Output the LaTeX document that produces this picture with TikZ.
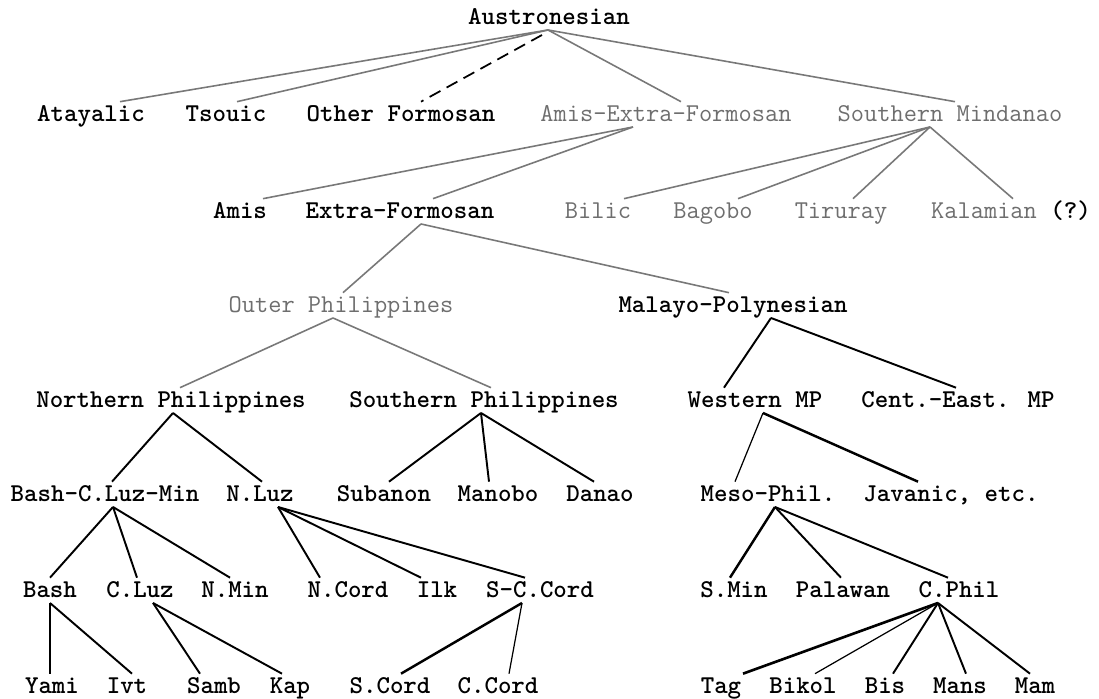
\documentclass[tikz,border=0pt]{standalone}
\usepackage{tikz}
\definecolor{textGray}{RGB}{110,110,110}
\definecolor{lineGray}{RGB}{120,120,120}

\begin{document}
\begin{tikzpicture}[x=0.2mm, y=-0.2mm,
    lang/.style={anchor=base, inner sep=0pt, outer sep=0pt, text height=11pt, text depth=3.4pt,
      font=\fontsize{14.6}{16}\selectfont\ttfamily\bfseries},
    faint/.style={lang, text=textGray, font=\fontsize{14.6}{16}\selectfont\ttfamily},
    upper/.style={lineGray, line width=0.9pt},
    lower/.style={black, line width=1.1pt},
    slim/.style={black, line width=0.7pt}]
  \fill[white] (0,0) rectangle (1099,699);
  \useasboundingbox (0,0) rectangle (1099,699);

  \node[lang] (aus) at (549,24) {Austronesian};

  \node[lang] (ata) at (91,121) {Atayalic};
  \node[lang] (tso) at (226,121) {Tsouic};
  \node[lang] (ofo) at (401,121) {Other Formosan};
  \node[faint] (aef) at (666,121) {Amis-Extra-Formosan};
  \node[faint] (smi) at (950,121) {Southern Mindanao};

  \node[lang] (ami) at (240,218) {Amis};
  \node[lang] (exf) at (400,218) {Extra-Formosan};
  \node[faint] (bil) at (598,218) {Bilic};
  \node[faint] (bag) at (713,218) {Bagobo};
  \node[faint] (tir) at (841,218) {Tiruray};
  \node[lang] (kal) at (1011,218) {\textcolor{textGray}{\mdseries Kalamian} (?)};

  \node[faint] (oph) at (341,312) {Outer Philippines};
  \node[lang] (mpo) at (733,312) {Malayo-Polynesian};

  \node[lang] (nph) at (171,407) {Northern Philippines};
  \node[lang] (sph) at (484,407) {Southern Philippines};
  \node[lang] (wmp) at (755,407) {Western MP};
  \node[lang] (cem) at (958,407) {Cent.-East. MP};

  \node[lang] (bcl) at (105,501) {Bash-C.Luz-Min};
  \node[lang] (nlu) at (260,501) {N.Luz};
  \node[lang] (sub) at (384,501) {Subanon};
  \node[lang] (man) at (498,501) {Manobo};
  \node[lang] (dan) at (600,501) {Danao};
  \node[lang] (mes) at (768,501) {Meso-Phil.};
  \node[lang] (jav) at (951,501) {Javanic, etc.};

  \node[lang] (bas) at (50,597) {Bash};
  \node[lang] (clu) at (140,597) {C.Luz};
  \node[lang] (nmi) at (235,597) {N.Min};
  \node[lang] (nco) at (348,597) {N.Cord};
  \node[lang] (ilk) at (437,597) {Ilk};
  \node[lang] (scc) at (540,597) {S-C.Cord};
  \node[lang] (smn) at (734,597) {S.Min};
  \node[lang] (pal) at (843,597) {Palawan};
  \node[lang] (cph) at (959,597) {C.Phil};

  \node[lang] (yam) at (52,693) {Yami};
  \node[lang] (ivt) at (127,693) {Ivt};
  \node[lang] (sam) at (214,693) {Samb};
  \node[lang] (kap) at (290,693) {Kap};
  \node[lang] (sco) at (390,693) {S.Cord};
  \node[lang] (cco) at (498,693) {C.Cord};
  \node[lang] (tag) at (721,693) {Tag};
  \node[lang] (bik) at (803,693) {Bikol};
  \node[lang] (bis) at (885,693) {Bis};
  \node[lang] (mas) at (960,693) {Mans};
  \node[lang] (mam) at (1035,693) {Mam};

  \draw[upper] ([shift={(-1,0)}]aus.south) -- ([shift={(29,0)}]ata.north);
  \draw[upper] ([shift={(-1,0)}]aus.south) -- ([shift={(11,0)}]tso.north);
  \draw[black, line width=1pt, dash pattern=on 7pt off 4pt] ([shift={(-7,5)}]aus.south) -- ([shift={(20,0)}]ofo.north);
  \draw[upper] ([shift={(-1,0)}]aus.south) -- ([shift={(15,0)}]aef.north);
  \draw[upper] ([shift={(-1,0)}]aus.south) -- ([shift={(5,0)}]smi.north);

  \draw[upper] ([shift={(-33,0)}]aef.south) -- ([shift={(23,0)}]ami.north);
  \draw[upper] ([shift={(-33,0)}]aef.south) -- ([shift={(33,0)}]exf.north);

  \draw[upper] ([shift={(-20,0)}]smi.south) -- ([shift={(26,0)}]bil.north);
  \draw[upper] ([shift={(-20,0)}]smi.south) -- ([shift={(25,0)}]bag.north);
  \draw[upper] ([shift={(-20,0)}]smi.south) -- ([shift={(12,0)}]tir.north);
  \draw[upper] ([shift={(-20,0)}]smi.south) -- ([shift={(2,0)}]kal.north);

  \draw[upper] ([shift={(21,0)}]exf.south) -- ([shift={(2,0)}]oph.north);
  \draw[upper] ([shift={(21,0)}]exf.south) -- ([shift={(-4,0)}]mpo.north);

  \draw[upper] ([shift={(-8,0)}]oph.south) -- ([shift={(9,0)}]nph.north);
  \draw[upper] ([shift={(-8,0)}]oph.south) -- ([shift={(7,0)}]sph.north);

  \draw[lower] ([shift={(38,0)}]mpo.south) -- ([shift={(-31,0)}]wmp.north);
  \draw[lower] ([shift={(38,0)}]mpo.south) -- ([shift={(-2,0)}]cem.north);

  \draw[lower] ([shift={(2,0)}]nph.south) -- ([shift={(7,0)}]bcl.north);
  \draw[lower] ([shift={(2,0)}]nph.south) -- ([shift={(2,0)}]nlu.north);

  \draw[lower] ([shift={(-3,0)}]sph.south) -- ([shift={(5,0)}]sub.north);
  \draw[lower] ([shift={(-3,0)}]sph.south) -- ([shift={(-9,0)}]man.north);
  \draw[lower] ([shift={(-3,0)}]sph.south) -- ([shift={(-6,0)}]dan.north);

  \draw[slim] ([shift={(8,0)}]wmp.south) -- ([shift={(-33,0)}]mes.north);
  \draw[lower, line width=1.4pt] ([shift={(8,0)}]wmp.south) -- ([shift={(-33,0)}]jav.north);

  \draw[lower] ([shift={(8,0)}]bcl.south) -- (bas.north);
  \draw[lower] ([shift={(8,0)}]bcl.south) -- ([shift={(-3,0)}]clu.north);
  \draw[lower] ([shift={(8,0)}]bcl.south) -- ([shift={(-5,0)}]nmi.north);

  \draw[lower] ([shift={(18,0)}]nlu.south) -- ([shift={(-28,0)}]nco.north);
  \draw[lower] ([shift={(18,0)}]nlu.south) -- ([shift={(-16,0)}]ilk.north);
  \draw[lower] ([shift={(18,0)}]nlu.south) -- ([shift={(-15,0)}]scc.north);

  \draw[lower, line width=1.4pt] ([shift={(7,0)}]mes.south) -- ([shift={(-4,0)}]smn.north);
  \draw[lower] ([shift={(7,0)}]mes.south) -- ([shift={(-2,0)}]pal.north);
  \draw[lower] ([shift={(7,0)}]mes.south) -- ([shift={(-11,0)}]cph.north);

  \draw[slim] (bas.south) -- ([shift={(-2,0)}]yam.north);
  \draw[lower] (bas.south) -- ([shift={(5,0)}]ivt.north);

  \draw[lower] ([shift={(13,0)}]clu.south) -- ([shift={(-14,0)}]sam.north);
  \draw[lower] ([shift={(13,0)}]clu.south) -- ([shift={(-8,0)}]kap.north);

  \draw[lower, line width=1.4pt] ([shift={(-18,0)}]scc.south) -- ([shift={(11,0)}]sco.north);
  \draw[slim] ([shift={(-18,0)}]scc.south) -- ([shift={(11,0)}]cco.north);

  \draw[lower, line width=1.5pt] ([shift={(-21,0)}]cph.south) -- ([shift={(22,0)}]tag.north);
  \draw[slim] ([shift={(-21,0)}]cph.south) -- ([shift={(12,0)}]bik.north);
  \draw[lower] ([shift={(-21,0)}]cph.south) -- ([shift={(8,0)}]bis.north);
  \draw[lower] ([shift={(-21,0)}]cph.south) -- ([shift={(6,0)}]mas.north);
  \draw[lower] ([shift={(-21,0)}]cph.south) -- ([shift={(-5,0)}]mam.north);
\end{tikzpicture}
\end{document}
